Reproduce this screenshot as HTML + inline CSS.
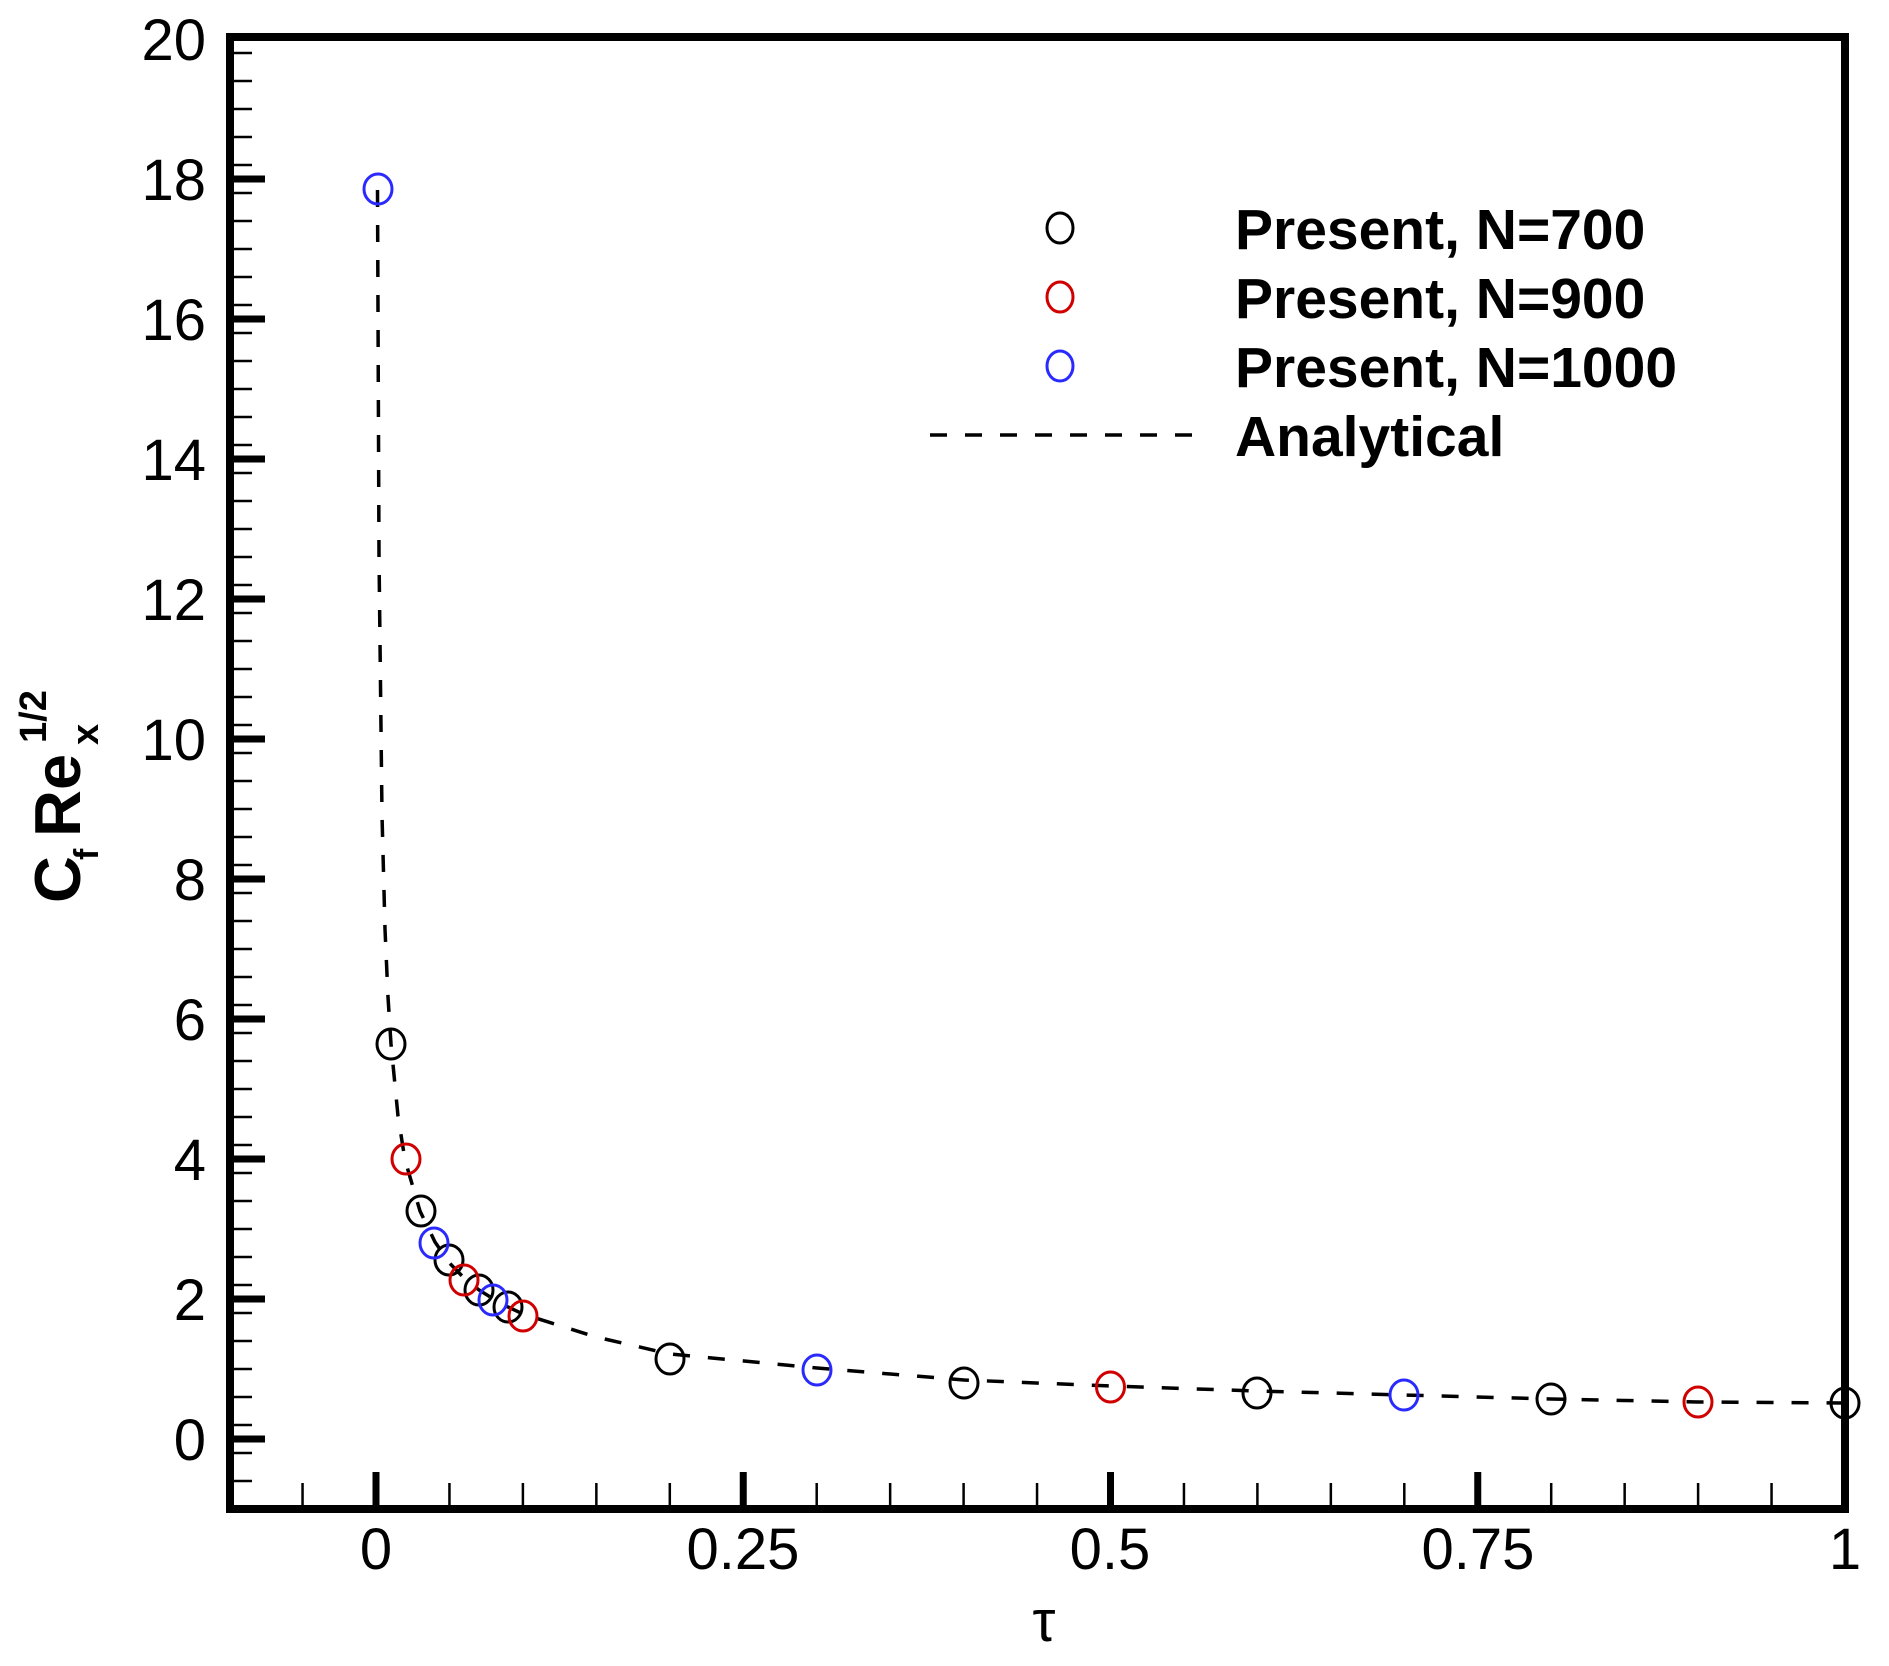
<!DOCTYPE html>
<html><head><meta charset="utf-8"><style>
html,body{margin:0;padding:0;background:#fff}
svg{display:block}
</style></head><body>
<svg width="1889" height="1666" viewBox="0 0 1889 1666" xmlns="http://www.w3.org/2000/svg" font-family="'Liberation Sans', Arial, sans-serif">
<rect width="1889" height="1666" fill="#fff"/>
<!-- y minor ticks via dashed wide line -->
<line x1="242" y1="1510.25" x2="242" y2="40" stroke="#000" stroke-width="20" stroke-dasharray="2.5 25.5"/>
<!-- x minor ticks -->
<line x1="227.85" y1="1495" x2="1845" y2="1495" stroke="#000" stroke-width="24" stroke-dasharray="2.5 70.95"/>
<!-- major ticks -->
<g stroke="#000" stroke-width="7">
<line x1="230" y1="1439" x2="265" y2="1439"/>
<line x1="230" y1="1299" x2="265" y2="1299"/>
<line x1="230" y1="1159" x2="265" y2="1159"/>
<line x1="230" y1="1019" x2="265" y2="1019"/>
<line x1="230" y1="879" x2="265" y2="879"/>
<line x1="230" y1="739" x2="265" y2="739"/>
<line x1="230" y1="599" x2="265" y2="599"/>
<line x1="230" y1="459" x2="265" y2="459"/>
<line x1="230" y1="319" x2="265" y2="319"/>
<line x1="230" y1="179" x2="265" y2="179"/>
<line x1="376" y1="1509" x2="376" y2="1472"/>
<line x1="743.25" y1="1509" x2="743.25" y2="1472"/>
<line x1="1110.5" y1="1509" x2="1110.5" y2="1472"/>
<line x1="1477.75" y1="1509" x2="1477.75" y2="1472"/>
</g>
<!-- frame -->
<rect x="230" y="37" width="1615" height="1472" fill="none" stroke="#000" stroke-width="8"/>
<!-- y labels -->
<g font-size="58" text-anchor="end" fill="#000">
<text x="206" y="1460">0</text>
<text x="206" y="1320">2</text>
<text x="206" y="1180">4</text>
<text x="206" y="1040">6</text>
<text x="206" y="900">8</text>
<text x="206" y="760">10</text>
<text x="206" y="620">12</text>
<text x="206" y="480">14</text>
<text x="206" y="340">16</text>
<text x="206" y="200">18</text>
<text x="206" y="60">20</text>
</g>
<!-- x labels -->
<g font-size="58" text-anchor="middle" fill="#000">
<text x="376" y="1569">0</text>
<text x="743" y="1569">0.25</text>
<text x="1110" y="1569">0.5</text>
<text x="1478" y="1569">0.75</text>
<text x="1845" y="1569">1</text>
<text x="1044" y="1641">τ</text>
</g>
<!-- y title -->
<g transform="translate(80,903) rotate(-90)" font-weight="bold" fill="#000">
<text x="0" y="0" font-size="65">C</text>
<text x="43" y="18" font-size="34">f</text>
<text x="66" y="0" font-size="65">Re</text>
<text x="158" y="18" font-size="38">x</text>
<text x="160" y="-34" font-size="38">1/2</text>
</g>
<!-- analytical -->
<polyline fill="none" stroke="#000" stroke-width="3.5" stroke-dasharray="17 18"
points="377.5,190 379,555 382,815 385,929 388,997 391,1044 398,1116 405,1160 420,1211 435,1242 449.5,1263 464,1278 479,1290 493.5,1299 508,1307 523,1314 596,1337 670,1354 817,1368 964,1380 1110.5,1386 1257,1391 1404,1395 1551,1399 1698,1402 1845,1403"/>
<!-- markers -->
<g fill="none" stroke-width="3">
<g stroke="#000">
<ellipse cx="391" cy="1044" rx="14" ry="15"/>
<ellipse cx="421" cy="1211" rx="14" ry="15"/>
<ellipse cx="449" cy="1260" rx="14" ry="15"/>
<ellipse cx="479" cy="1290" rx="14" ry="15"/>
<ellipse cx="508" cy="1307" rx="14" ry="15"/>
<ellipse cx="670" cy="1359" rx="14" ry="15"/>
<ellipse cx="964" cy="1383" rx="14" ry="15"/>
<ellipse cx="1257" cy="1393" rx="14" ry="15"/>
<ellipse cx="1551" cy="1399" rx="14" ry="15"/>
<ellipse cx="1845" cy="1403" rx="14" ry="15"/>
</g>
<g stroke="#d00000">
<ellipse cx="406" cy="1159" rx="14" ry="15"/>
<ellipse cx="464" cy="1280" rx="14" ry="15"/>
<ellipse cx="523" cy="1316" rx="14" ry="15"/>
<ellipse cx="1110.5" cy="1387" rx="14" ry="15"/>
<ellipse cx="1698" cy="1402" rx="14" ry="15"/>
</g>
<g stroke="#2a2aff">
<ellipse cx="378" cy="189" rx="14" ry="15"/>
<ellipse cx="434" cy="1243" rx="14" ry="15"/>
<ellipse cx="493" cy="1300" rx="14" ry="15"/>
<ellipse cx="817" cy="1370" rx="14" ry="15"/>
<ellipse cx="1404" cy="1395" rx="14" ry="15"/>
</g>
</g>
<!-- legend -->
<g fill="none" stroke-width="3">
<ellipse cx="1060" cy="228" rx="13" ry="15" stroke="#000"/>
<ellipse cx="1060" cy="297" rx="13" ry="15" stroke="#d00000"/>
<ellipse cx="1060" cy="366" rx="13" ry="15" stroke="#2a2aff"/>
</g>
<line x1="930" y1="435" x2="1193" y2="435" stroke="#000" stroke-width="3.5" stroke-dasharray="17 18"/>
<g font-size="57" font-weight="bold" fill="#000">
<text x="1235" y="249">Present, N=700</text>
<text x="1235" y="318">Present, N=900</text>
<text x="1235" y="387">Present, N=1000</text>
<text x="1235" y="456">Analytical</text>
</g>
</svg>
</body></html>
